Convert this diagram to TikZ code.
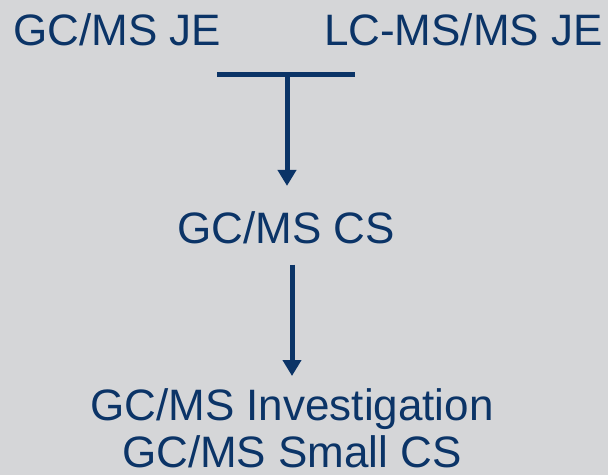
\documentclass[tikz,border=0pt]{standalone}
\usepackage{fontspec}
\setmainfont{Liberation Sans}
\usetikzlibrary{arrows.meta}
\definecolor{navy}{HTML}{0B3467}
\definecolor{bggray}{HTML}{D5D6D8}
\begin{document}
\begin{tikzpicture}[x=1pt, y=-1pt,
    lbl/.style={text=navy, inner sep=0pt, font=\fontsize{44}{47}\selectfont},
    flow/.style={draw=navy, line width=5pt, -{Triangle[width=18pt,length=16pt]}}]
    % Background
    \fill[bggray] (0,0) rectangle (608,475);

    % Sources
    \node[lbl, anchor=base west] (gcje) at (13,45) {GC/MS JE};
    \node[lbl, anchor=base east] (lcje) at (603,45) {LC-MS/MS JE};

    % Join bar
    \coordinate (barL) at (217,74);
    \coordinate (barR) at (355,74);
    \coordinate (join) at (287,74);
    \draw[navy, line width=5pt] (barL) -- (barR);

    % Steps
    \node[lbl, anchor=base] (cs) at (286,243) {GC/MS CS};
    \node[lbl, anchor=north, align=center] (inv) at (292,388) {GC/MS Investigation\\GC/MS Small CS};

    % Arrows
    \draw[flow, shorten >=25pt] (join) -- (join |- cs.north);
    \draw[flow, shorten <=21pt, shorten >=12pt] (cs.south -| inv) -- (inv.north);
\end{tikzpicture}
\end{document}
